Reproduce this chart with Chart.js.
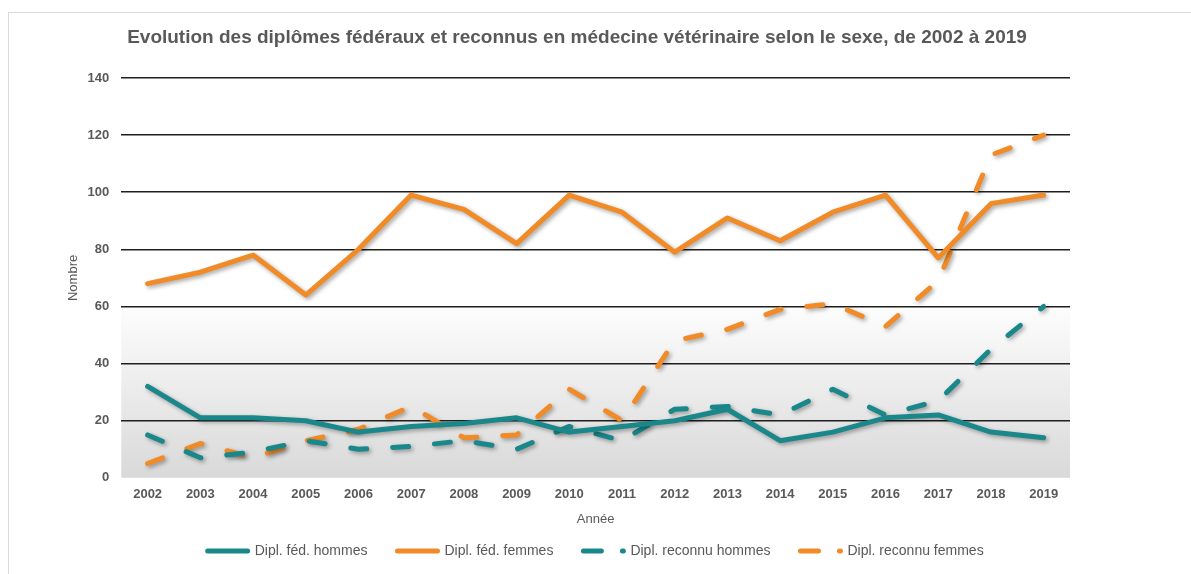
<!DOCTYPE html>
<html>
<head>
<meta charset="utf-8">
<script src="https://cdn.jsdelivr.net/npm/chart.js@4/dist/chart.umd.min.js"></script>
<style>
  html, body { margin: 0; padding: 0; background: #fff; }
  #wrap { position: relative; width: 1191px; height: 574px; overflow: hidden; }
  #frame { position: absolute; left: 8px; top: 12px; width: 1300px; height: 700px; border: 1px solid #d9d9d9; pointer-events: none; }
</style>
</head>
<body>
<div id="wrap">
  <div id="frame"></div>
  <canvas id="myChart" width="1191" height="574"></canvas>
</div>
<script>
// Data
const years = ['2002','2003','2004','2005','2006','2007','2008','2009','2010','2011','2012','2013','2014','2015','2016','2017','2018','2019'];
const fedHommes = [32, 21, 21, 20, 16, 18, 19, 21, 16, 18, 20, 24, 13, 16, 21, 22, 16, 14];
const fedFemmes = [68, 72, 78, 64, 80, 99, 94, 82, 99, 93, 79, 91, 83, 93, 99, 77, 96, 99];
const recHommes = [15, 7, 9, 13, 10, 11, 13, 10, 18, 13, 24, 25, 22, 31, 22, 27, 45, 60];
const recFemmes = [5, 12, 7, 13, 17, 25, 14, 15, 31, 20, 48, 52, 59, 61, 53, 69, 113, 120];

const chartTitle = 'Evolution des diplômes fédéraux et reconnus en médecine vétérinaire selon le sexe, de 2002 à 2019';

const teal = '#1a888b';
const orange = '#f18b27';
const textGrey = '#595959';

Chart.defaults.font.family = '"Liberation Sans", Arial, sans-serif';
Chart.defaults.color = textGrey;

// plot background : white on top, grey gradient from 60 down to 0
const bgPlugin = {
  id: 'bgPlugin',
  beforeDraw(chart) {
    const { ctx, chartArea, scales } = chart;
    const y60 = scales.y.getPixelForValue(60);
    const g = ctx.createLinearGradient(0, y60, 0, chartArea.bottom);
    g.addColorStop(0, '#fdfdfd');
    g.addColorStop(1, '#d9d9d9');
    ctx.save();
    ctx.fillStyle = g;
    ctx.fillRect(chartArea.left, y60, chartArea.right - chartArea.left, chartArea.bottom - y60);
    ctx.restore();
  }
};

// soft drop shadow under the lines
const shadowPlugin = {
  id: 'shadowPlugin',
  beforeDatasetDraw(chart) {
    const ctx = chart.ctx;
    ctx.save();
    ctx.shadowColor = 'rgba(0,0,0,0.35)';
    ctx.shadowBlur = 4;
    ctx.shadowOffsetX = 2;
    ctx.shadowOffsetY = 2;
  },
  afterDatasetDraw(chart) {
    chart.ctx.restore();
  }
};

// title drawn a bit left of centre, like the original
const titlePlugin = {
  id: 'titlePlugin',
  afterDraw(chart) {
    const ctx = chart.ctx;
    ctx.save();
    ctx.font = 'bold 19px "Liberation Sans", Arial, sans-serif';
    ctx.fillStyle = textGrey;
    ctx.textAlign = 'center';
    ctx.textBaseline = 'middle';
    ctx.fillText(chartTitle, 577, 38);
    ctx.restore();
  }
};

const ctx = document.getElementById('myChart');

new Chart(ctx, {
  type: 'line',
  data: {
    labels: years,
    datasets: [
      { label: 'Dipl. féd. hommes', data: fedHommes, borderColor: teal, backgroundColor: teal },
      { label: 'Dipl. féd. femmes', data: fedFemmes, borderColor: orange, backgroundColor: orange },
      { label: 'Dipl. reconnu hommes', data: recHommes, borderColor: teal, backgroundColor: teal, borderDash: [16, 26] },
      { label: 'Dipl. reconnu femmes', data: recFemmes, borderColor: orange, backgroundColor: orange, borderDash: [16, 26] }
    ]
  },
  options: {
    responsive: false,
    animation: false,
    layout: { padding: { left: 66, right: 121, top: 78, bottom: 6 } },
    elements: {
      line: { borderWidth: 5, tension: 0, borderCapStyle: 'round', borderJoinStyle: 'round' },
      point: { radius: 0 }
    },
    scales: {
      x: {
        offset: true,
        grid: { display: false, drawTicks: false },
        border: { display: false },
        ticks: { padding: 9, font: { size: 13, weight: 'bold' }, color: textGrey },
        title: { display: true, text: 'Année', font: { size: 13 }, color: textGrey, padding: { top: 0, bottom: -13 } }
      },
      y: {
        min: 0,
        max: 140,
        ticks: { stepSize: 20, padding: 12, font: { size: 13, weight: 'bold' }, color: textGrey },
        grid: {
          drawTicks: false,
          lineWidth: 1.5,
          color: (c) => c.tick && c.tick.value === 0 ? 'rgba(0,0,0,0)' : '#1f1f1f'
        },
        border: { display: false },
        title: { display: true, text: 'Nombre', font: { size: 13 }, color: textGrey, padding: { top: 0, bottom: -6 } }
      }
    },
    plugins: {
      title: { display: false },
      legend: {
        position: 'bottom',
        fullSize: false,
        labels: {
          usePointStyle: true,
          pointStyle: 'line',
          pointStyleWidth: 40,
          padding: 30,
          font: { size: 14 },
          color: textGrey,
          generateLabels(chart) {
            const items = Chart.defaults.plugins.legend.labels.generateLabels(chart);
            items.forEach((it) => {
              it.lineWidth = 5;
              it.lineCap = 'round';
              it.pointStyle = 'line';
              it.lineDash = it.datasetIndex >= 2 ? [18, 21] : [];
            });
            return items;
          }
        }
      },
      tooltip: { enabled: false }
    }
  },
  plugins: [bgPlugin, shadowPlugin, titlePlugin]
});
</script>
</body>
</html>
